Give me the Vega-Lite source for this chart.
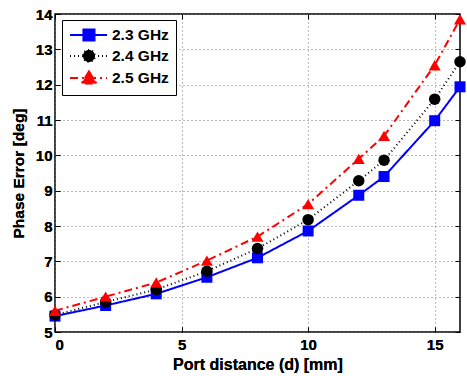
{
  "$schema": "https://vega.github.io/schema/vega-lite/v6.json",
  "width": 405,
  "height": 318,
  "autosize": {"type": "none"},
  "padding": {"left": 55, "top": 14, "right": 7, "bottom": 44},
  "background": "white",
  "config": {
    "font": "Liberation Sans",
    "view": {"stroke": "black", "strokeWidth": 1.5},
    "axis": {
      "domain": false,
      "tickColor": "black",
      "tickSize": -5,
      "tickWidth": 1,
      "labelFont": "Liberation Sans",
      "labelFontWeight": "bold",
      "labelFontSize": 15,
      "labelColor": "black",
      "titleFont": "Liberation Sans",
      "titleFontWeight": "bold",
      "titleFontSize": 15.5,
      "titleColor": "black",
      "grid": true,
      "gridColor": "#777777",
      "gridDash": [1, 3],
      "gridWidth": 1,
      "gridOpacity": 1
    },
    "legend": {
      "orient": "none",
      "legendX": 7,
      "legendY": 6,
      "padding": 7,
      "strokeColor": "black",
      "fillColor": "white",
      "labelFont": "Liberation Sans",
      "labelFontWeight": "bold",
      "labelFontSize": 15.5,
      "labelColor": "black",
      "labelOffset": 27,
      "rowPadding": 0,
      "symbolSize": 196,
      "symbolStrokeWidth": 2,
      "symbolOpacity": 1
    }
  },
  "data": {
    "values": [
      {"d": 0, "err": 5.45, "series": "2.3 GHz"},
      {"d": 2, "err": 5.75, "series": "2.3 GHz"},
      {"d": 4, "err": 6.08, "series": "2.3 GHz"},
      {"d": 6, "err": 6.55, "series": "2.3 GHz"},
      {"d": 8, "err": 7.1, "series": "2.3 GHz"},
      {"d": 10, "err": 7.86, "series": "2.3 GHz"},
      {"d": 12, "err": 8.87, "series": "2.3 GHz"},
      {"d": 13, "err": 9.4, "series": "2.3 GHz"},
      {"d": 15, "err": 10.98, "series": "2.3 GHz"},
      {"d": 16, "err": 11.94, "series": "2.3 GHz"},
      {"d": 0, "err": 5.48, "series": "2.4 GHz"},
      {"d": 2, "err": 5.85, "series": "2.4 GHz"},
      {"d": 4, "err": 6.2, "series": "2.4 GHz"},
      {"d": 6, "err": 6.72, "series": "2.4 GHz"},
      {"d": 8, "err": 7.36, "series": "2.4 GHz"},
      {"d": 10, "err": 8.18, "series": "2.4 GHz"},
      {"d": 12, "err": 9.28, "series": "2.4 GHz"},
      {"d": 13, "err": 9.86, "series": "2.4 GHz"},
      {"d": 15, "err": 11.59, "series": "2.4 GHz"},
      {"d": 16, "err": 12.65, "series": "2.4 GHz"},
      {"d": 0, "err": 5.6, "series": "2.5 GHz"},
      {"d": 2, "err": 6.0, "series": "2.5 GHz"},
      {"d": 4, "err": 6.4, "series": "2.5 GHz"},
      {"d": 6, "err": 7.02, "series": "2.5 GHz"},
      {"d": 8, "err": 7.7, "series": "2.5 GHz"},
      {"d": 10, "err": 8.62, "series": "2.5 GHz"},
      {"d": 12, "err": 9.9, "series": "2.5 GHz"},
      {"d": 13, "err": 10.55, "series": "2.5 GHz"},
      {"d": 15, "err": 12.55, "series": "2.5 GHz"},
      {"d": 16, "err": 13.85, "series": "2.5 GHz"}
    ]
  },
  "encoding": {
    "x": {
      "field": "d",
      "type": "quantitative",
      "title": "Port distance (d) [mm]",
      "scale": {"domain": [0, 16], "nice": false, "zero": false},
      "axis": {"values": [0, 5, 10, 15], "labelPadding": 10, "titleY": 37, "titleBaseline": "alphabetic", "titleFontSize": 16}
    },
    "y": {
      "field": "err",
      "type": "quantitative",
      "title": "Phase Error [deg]",
      "scale": {"domain": [5, 14], "nice": false, "zero": false},
      "axis": {"values": [5, 6, 7, 8, 9, 10, 11, 12, 13, 14], "labelPadding": 8, "titleX": -29}
    }
  },
  "layer": [
    {
      "mark": {"type": "line", "strokeWidth": 2},
      "encoding": {
        "color": {
          "field": "series",
          "type": "nominal",
          "scale": {"domain": ["2.3 GHz", "2.4 GHz", "2.5 GHz"], "range": ["#0000ff", "#000000", "#ff0000"]},
          "legend": null
        },
        "strokeDash": {
          "field": "series",
          "type": "nominal",
          "scale": {"domain": ["2.3 GHz", "2.4 GHz", "2.5 GHz"], "range": [[1, 0], [1, 3], [8, 4, 2, 4]]},
          "legend": null
        }
      }
    },
    {
      "mark": {"type": "point", "filled": true, "opacity": 1},
      "encoding": {
        "x": {
          "field": "d",
          "type": "quantitative",
          "scale": {"domain": [0, 16], "nice": false, "zero": false},
          "axis": {"orient": "top", "values": [0, 5, 10, 15], "labels": false, "grid": false, "title": null}
        },
        "y": {
          "field": "err",
          "type": "quantitative",
          "scale": {"domain": [5, 14], "nice": false, "zero": false},
          "axis": {"orient": "right", "values": [5, 6, 7, 8, 9, 10, 11, 12, 13, 14], "labels": false, "grid": false, "title": null}
        },
        "color": {
          "field": "series",
          "type": "nominal",
          "scale": {"domain": ["2.3 GHz", "2.4 GHz", "2.5 GHz"], "range": ["#0000ff", "#000000", "#ff0000"]},
          "legend": null
        },
        "shape": {
          "field": "series",
          "type": "nominal",
          "scale": {"domain": ["2.3 GHz", "2.4 GHz", "2.5 GHz"], "range": ["square", "circle", "triangle-up"]},
          "legend": null
        },
        "size": {
          "field": "series",
          "type": "nominal",
          "scale": {"domain": ["2.3 GHz", "2.4 GHz", "2.5 GHz"], "range": [121, 144, 225]},
          "legend": null
        }
      }
    },
    {
      "transform": [{"filter": "false"}],
      "mark": {"type": "point", "filled": true},
      "encoding": {
        "color": {
          "field": "series",
          "type": "nominal",
          "title": null,
          "scale": {"domain": ["2.3 GHz", "2.4 GHz", "2.5 GHz"], "range": ["#0000ff", "#000000", "#ff0000"]},
          "legend": {"labelFontSize": 15.5, "labelFont": "Liberation Sans", "labelFontWeight": "bold", "rowPadding": 0}
        },
        "stroke": {
          "field": "series",
          "type": "nominal",
          "title": null,
          "scale": {"domain": ["2.3 GHz", "2.4 GHz", "2.5 GHz"], "range": ["#0000ff", "#000000", "#ff0000"]}
        },
        "strokeDash": {
          "field": "series",
          "type": "nominal",
          "title": null,
          "scale": {"domain": ["2.3 GHz", "2.4 GHz", "2.5 GHz"], "range": [[1, 0], [1, 3], [8, 4, 2, 4]]}
        },
        "shape": {
          "field": "series",
          "type": "nominal",
          "title": null,
          "scale": {
            "domain": ["2.3 GHz", "2.4 GHz", "2.5 GHz"],
            "range": [
              "M-1,0L4.29,0M0.92,-0.79L2.5,-0.79L2.5,0.79L0.92,0.79Z",
              "M-1,0L4.29,0M0.85,0A0.86,0.86,0,1,0,2.57,0A0.86,0.86,0,1,0,0.85,0Z",
              "M-1,0L4.29,0M1.71,-0.95L2.78,0.8L0.64,0.8Z"
            ]
          }
        }
      }
    }
  ],
  "resolve": {
    "scale": {
      "color": "independent",
      "stroke": "independent",
      "strokeDash": "independent",
      "shape": "independent",
      "size": "independent"
    },
    "axis": {"x": "independent", "y": "independent"}
  }
}
